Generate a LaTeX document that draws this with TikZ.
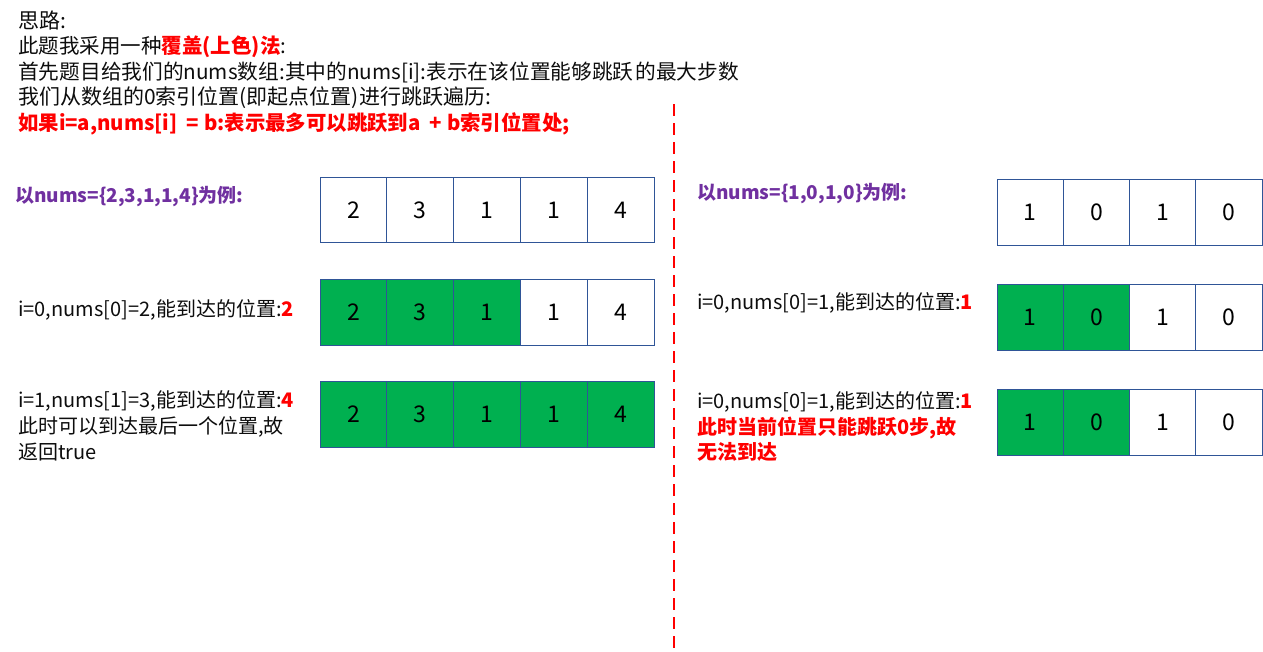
\documentclass[tikz,border=0pt]{standalone}
\usepackage{fontspec}
\setmainfont{Noto Sans CJK SC}
\definecolor{myred}{HTML}{FF0000}
\definecolor{mypurple}{HTML}{7030A0}
\definecolor{mygreen}{HTML}{00B050}
\definecolor{cellblue}{HTML}{2F5597}
\definecolor{txt}{HTML}{0D0D0D}
\tikzset{
  line/.style={anchor=base west, inner sep=0pt, font=\fontsize{21}{21}\selectfont, text=txt},
  lab/.style={anchor=base west, inner sep=0pt, font=\fontsize{20}{20}\selectfont, text=txt},
  plab/.style={anchor=base west, inner sep=0pt, font=\fontsize{19}{19}\selectfont\bfseries, text=mypurple},
  cellL/.style={draw=cellblue, line width=0.9pt, minimum width=66.8pt, minimum height=65.5pt, inner sep=0pt, font=\fontsize{23}{23}\selectfont},
  cellR/.style={draw=cellblue, line width=0.9pt, minimum width=66.25pt, minimum height=66pt, inner sep=0pt, font=\fontsize{23}{23}\selectfont},
  on/.style={fill=mygreen},
  off/.style={fill=white},
  divider/.style={draw=myred, line width=1.8pt, dash pattern=on 12pt off 7pt}
}
\begin{document}
\begin{tikzpicture}[x=1pt, y=-1pt]
\useasboundingbox (0,0) rectangle (1263,651);
\fill[white] (0,0) rectangle (1263,651);
% header text
\node[line] (t1) at (18,28) {思路:};
\node[line, font=\fontsize{20.5}{20.5}\selectfont] (t2) at (18,53.5) {此题我采用一种\textcolor{myred}{\bfseries 覆盖(上色)法}:};
\node[line, font=\fontsize{20.7}{20.7}\selectfont] (t3) at (18,79) {首先题目给我们的nums数组:其中的nums[i]:表示在该位置能够跳跃\hspace{2pt}的最大步数};
\node[line] (t4) at (18,104.5) {我们从数组的0索引位置(即起点位置)进行跳跃遍历:};
\node[line, text=myred, font=\fontsize{20.4}{20.4}\selectfont\bfseries] (t5) at (18,130) {如果i=a,nums[i]\ \ = b:表示最多可以跳跃到a\ \ + b索引位置处;};
% divider
\coordinate (d1) at (674,104);
\coordinate (d2) at (674,648);
\draw[divider] (d1) -- (d2);
% left labels
\node[plab] (pl) at (15,202) {以nums=\{2,3,1,1,4\}为例:};
\node[lab] (l2) at (18,316) {i=0,nums[0]=2,能到达的位置:\textcolor{myred}{\bfseries 2}};
\node[lab] (l3a) at (18,407) {i=1,nums[1]=3,能到达的位置:\textcolor{myred}{\bfseries 4}};
\node[lab] (l3b) at (18,433) {此时可以到达最后一个位置,故};
\node[lab] (l3c) at (18,459) {返回true};
% left arrays
\foreach \v [count=\k] in {2,3,1,1,4}{
  \node[cellL, off] (A\k) at (320+33.4+66.8*\k-66.8,210) {\v};
}
\foreach \v/\s [count=\k] in {2/on,3/on,1/on,1/off,4/off}{
  \node[cellL, \s] (B\k) at (320+33.4+66.8*\k-66.8,312.5) {\v};
}
\foreach \v [count=\k] in {2,3,1,1,4}{
  \node[cellL, on] (C\k) at (320+33.4+66.8*\k-66.8,414.5) {\v};
}
% right labels
\node[plab] (pr) at (697,199) {以nums=\{1,0,1,0\}为例:};
\node[lab] (r2) at (697,309) {i=0,nums[0]=1,能到达的位置:\textcolor{myred}{\bfseries 1}};
\node[lab] (r3a) at (697,408) {i=0,nums[0]=1,能到达的位置:\textcolor{myred}{\bfseries 1}};
\node[lab, text=myred, font=\fontsize{20}{20}\selectfont\bfseries] (r3b) at (697,434) {此时当前位置只能跳跃0步,故};
\node[lab, text=myred, font=\fontsize{20}{20}\selectfont\bfseries] (r3c) at (697,459) {无法到达};
% right arrays
\foreach \v [count=\k] in {1,0,1,0}{
  \node[cellR, off] (D\k) at (997+33.125+66.25*\k-66.25,212.5) {\v};
}
\foreach \v/\s [count=\k] in {1/on,0/on,1/off,0/off}{
  \node[cellR, \s] (E\k) at (997+33.125+66.25*\k-66.25,317) {\v};
}
\foreach \v/\s [count=\k] in {1/on,0/on,1/off,0/off}{
  \node[cellR, \s] (F\k) at (997+33.125+66.25*\k-66.25,422) {\v};
}
\end{tikzpicture}
\end{document}
